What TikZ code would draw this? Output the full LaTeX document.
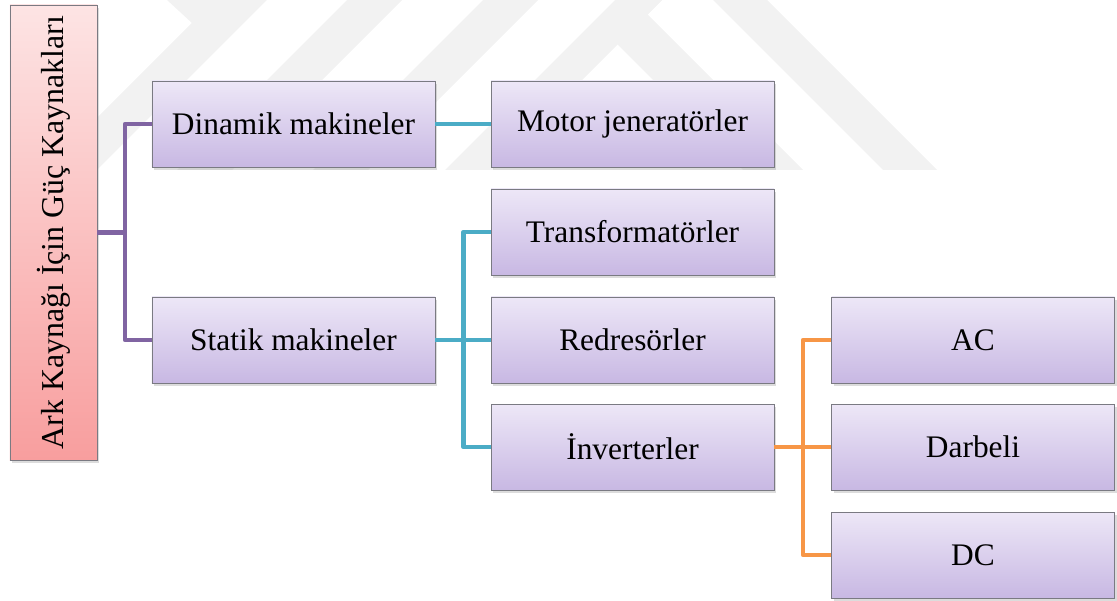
\documentclass[tikz,border=0pt]{standalone}
\usepackage{fontspec}
\setmainfont{Liberation Serif}
\usetikzlibrary{shadows,calc}

\definecolor{wm}{RGB}{242,242,242}
\definecolor{lavtop}{RGB}{237,231,247}
\definecolor{lavbot}{RGB}{200,184,227}
\definecolor{pinktop}{RGB}{253,228,228}
\definecolor{pinkbot}{RGB}{248,158,158}
\definecolor{boxedge}{RGB}{122,122,130}
\definecolor{purpleline}{RGB}{128,100,162}
\definecolor{cyanline}{RGB}{75,172,198}
\definecolor{orangeline}{RGB}{247,150,70}

\tikzset{
  basebox/.style={rectangle, draw=boxedge, line width=0.8bp, inner sep=0pt,
    drop shadow={opacity=0.28, shadow xshift=2bp, shadow yshift=-3bp},
    font=\fontsize{31.5}{36}\selectfont},
  itembox/.style={basebox, top color=lavtop, bottom color=lavbot,
    minimum width=283bp, minimum height=86bp},
  rootbox/.style={basebox, top color=pinktop, bottom color=pinkbot,
    minimum width=87bp, minimum height=455bp},
  link/.style={line width=4.5bp, line join=round},
}

\begin{document}
\begin{tikzpicture}[x=1bp, y=-1bp]
\useasboundingbox (0,0) rectangle (1117,601);

% faint striped emblem in the background
\begin{scope}[fill=wm]
  \fill (167,0) -- (267,0) -- (97,170) -- (45,170) -- (192,23) -- cycle;
  \fill (347,0) -- (402,0) -- (232,170) -- (177,170) -- cycle;
  \fill (483,0) -- (538,0) -- (368,170) -- (313,170) -- cycle;
  \fill (615,0) -- (662,0) -- (492,170) -- (445,170) -- cycle;
  \fill (617.5,44.5) -- (743,170) -- (803,170) -- (647.5,14.5) -- (662,0) -- (640,0) -- cycle;
  \fill (713,0) -- (767,0) -- (937,170) -- (883,170) -- cycle;
\end{scope}

% boxes
\node[rootbox] (root) at (53.5,232.5)
  {\rotatebox{90}{\fontsize{32}{36}\selectfont Ark Kaynağı İçin Güç Kaynakları}};

\node[itembox] (din) at (293.5,124) {Dinamik makineler};
\node[itembox] (sta) at (293.5,340) {Statik makineler};

\node[itembox] (mot) at (632.5,124) {Motor jeneratörler};
\node[itembox] (tra) at (632.5,232) {Transformatörler};
\node[itembox] (red) at (632.5,340) {Redresörler};
\node[itembox] (inv) at (632.5,447) {İnverterler};

\node[itembox] (ac)  at (973,340) {AC};
\node[itembox] (dar) at (973,447) {Darbeli};
\node[itembox] (dc)  at (973,555) {DC};

% junction points of the branches
\coordinate (pj) at ($(root.east)+(27.5,0)$);
\coordinate (cj) at ($(sta.east)+(28,0)$);
\coordinate (oj) at ($(inv.east)+(28.5,0)$);

% connectors
\draw[link, purpleline] (root.east) -- (pj);
\draw[link, purpleline] (din.west) -| (pj) |- (sta.west);

\draw[link, cyanline] (din.east) -- (mot.west);
\draw[link, cyanline] (sta.east) -- (red.west);
\draw[link, cyanline] (tra.west) -| (cj) |- (inv.west);

\draw[link, orangeline] (inv.east) -- (dar.west);
\draw[link, orangeline] (ac.west) -| (oj) |- (dc.west);
\end{tikzpicture}
\end{document}
